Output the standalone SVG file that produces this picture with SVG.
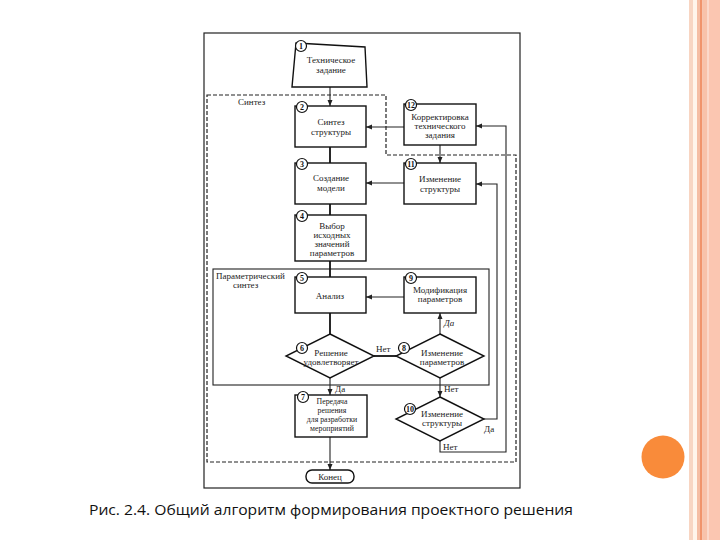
<svg xmlns="http://www.w3.org/2000/svg" width="720" height="540" viewBox="0 0 720 540">
<defs>
<style>
.bx{fill:#fff;stroke:#111;stroke-width:1.4}
.num{fill:#fff;stroke:#111;stroke-width:1.2}
.nt{font-family:"Liberation Serif",serif;font-size:8px;font-weight:bold;fill:#111;text-anchor:middle}
.t{font-family:"Liberation Serif",serif;font-size:9px;fill:#222;text-anchor:middle}
.t7{font-family:"Liberation Serif",serif;font-size:7.8px;fill:#222;text-anchor:middle}
.lb{font-family:"Liberation Serif",serif;font-size:9px;fill:#222}
.ln{fill:none;stroke:#222;stroke-width:1.1}
.thk{fill:none;stroke:#111;stroke-width:1.8}
.dash{fill:none;stroke:#222;stroke-width:1.2;stroke-dasharray:4 2}
</style>
<marker id="ar" markerWidth="6" markerHeight="6" refX="6" refY="3" orient="auto" markerUnits="userSpaceOnUse">
<path d="M0,0.5 L6,3 L0,5.5 Z" fill="#222"/>
</marker>
</defs>
<rect width="720" height="540" fill="#fff"/>
<!-- right decoration -->
<g id="decor">
<rect x="689" y="0" width="4" height="540" fill="#F8D5C2"/>
<rect x="693" y="0" width="4" height="540" fill="#FFF4EA"/>
<rect x="697" y="0" width="3" height="540" fill="#F5BDA3"/>
<rect x="700" y="0" width="2.5" height="540" fill="#F0946C"/>
<rect x="702.5" y="0" width="4.5" height="540" fill="#F8C2AA"/>
<rect x="707" y="0" width="1.5" height="540" fill="#FBD9CA"/>
<rect x="708.5" y="0" width="11.5" height="540" fill="#FBC6B1"/>
<circle cx="663" cy="457" r="21.5" fill="#F98B3A"/>
</g>
<!-- frame and regions -->
<rect x="204" y="33" width="316" height="455" fill="none" stroke="#222" stroke-width="1.2"/>
<path class="dash" d="M207,95 H386 V155 H516 V462 H207 Z"/>
<text class="lb" x="238" y="105">Синтез</text>
<rect x="213" y="269" width="276" height="116" fill="none" stroke="#222" stroke-width="1.1"/>
<text class="lb" x="216" y="279">Параметрический</text>
<text class="lb" x="233" y="288">синтез</text>
<!-- connectors -->
<g id="connectors">
<line class="ln" x1="330" y1="87" x2="330" y2="106" marker-end="url(#ar)"/>
<line class="thk" x1="330" y1="147" x2="330" y2="163"/>
<line class="thk" x1="330" y1="204" x2="330" y2="215"/>
<line class="thk" x1="330" y1="261" x2="330" y2="277"/>
<line class="thk" x1="330" y1="313" x2="330" y2="334"/>
<line class="ln" x1="330" y1="378" x2="330" y2="395" marker-end="url(#ar)"/>
<line class="ln" x1="330" y1="437" x2="330" y2="470" marker-end="url(#ar)"/>
<line class="ln" x1="404" y1="127" x2="366" y2="127" marker-end="url(#ar)"/>
<line class="ln" x1="440" y1="145" x2="440" y2="163" marker-end="url(#ar)"/>
<line class="ln" x1="404" y1="183" x2="366" y2="183" marker-end="url(#ar)"/>
<line class="ln" x1="404" y1="297" x2="366" y2="297" marker-end="url(#ar)"/>
<line class="thk" x1="374" y1="356" x2="396" y2="356"/>
<line class="ln" x1="440" y1="334" x2="440" y2="313" marker-end="url(#ar)"/>
<line class="ln" x1="440" y1="378" x2="440" y2="397" marker-end="url(#ar)"/>
<polyline class="ln" points="484,419 497,419 497,184 476,184" marker-end="url(#ar)"/>
<polyline class="ln" points="440,441 440,452 506,452 506,126 476,126" marker-end="url(#ar)"/>
<text class="lb" x="376" y="352">Нет</text>
<text class="lb" x="444" y="326" font-style="italic">Да</text>
<text class="lb" x="335" y="392">Да</text>
<text class="lb" x="444" y="392">Нет</text>
<text class="lb" x="484" y="432">Да</text>
<text class="lb" x="443" y="450">Нет</text>
</g>
<!-- nodes -->
<g id="n1">
<polygon class="bx" points="296,43 365,47 367,87 292,87"/>
<circle class="num" cx="301" cy="46" r="5.5"/><text class="nt" x="301" y="49">1</text>
<text class="t" x="331" y="63">Техническое</text>
<text class="t" x="331" y="73">задание</text>
</g>
<g id="n2">
<rect class="bx" x="295" y="106" width="71" height="41"/>
<circle class="num" cx="302" cy="107" r="5.5"/><text class="nt" x="302" y="110">2</text>
<text class="t" x="331" y="125">Синтез</text>
<text class="t" x="331" y="135">структуры</text>
</g>
<g id="n12">
<rect class="bx" x="404" y="104" width="72" height="41"/>
<circle class="num" cx="411" cy="105" r="5.5"/><text class="nt" x="411" y="108">12</text>
<text class="t" x="440" y="120">Корректировка</text>
<text class="t" x="440" y="129">технического</text>
<text class="t" x="440" y="138">задания</text>
</g>
<g id="n3">
<rect class="bx" x="295" y="163" width="71" height="41"/>
<circle class="num" cx="302" cy="164" r="5.5"/><text class="nt" x="302" y="167">3</text>
<text class="t" x="331" y="181">Создание</text>
<text class="t" x="331" y="191">модели</text>
</g>
<g id="n11">
<rect class="bx" x="404" y="163" width="72" height="41"/>
<circle class="num" cx="411" cy="164" r="5.5"/><text class="nt" x="411" y="167">11</text>
<text class="t" x="440" y="182">Изменение</text>
<text class="t" x="440" y="192">структуры</text>
</g>
<g id="n4">
<rect class="bx" x="295" y="215" width="71" height="46"/>
<circle class="num" cx="302" cy="216" r="5.5"/><text class="nt" x="302" y="219">4</text>
<text class="t" x="332" y="229">Выбор</text>
<text class="t" x="332" y="238">исходных</text>
<text class="t" x="332" y="247">значений</text>
<text class="t" x="332" y="256">параметров</text>
</g>
<g id="n5">
<rect class="bx" x="295" y="277" width="71" height="36"/>
<circle class="num" cx="302" cy="278" r="5.5"/><text class="nt" x="302" y="281">5</text>
<text class="t" x="330" y="299">Анализ</text>
</g>
<g id="n9">
<rect class="bx" x="404" y="277" width="72" height="36"/>
<circle class="num" cx="411" cy="278" r="5.5"/><text class="nt" x="411" y="281">9</text>
<text class="t" x="440" y="293">Модификация</text>
<text class="t" x="440" y="302">параметров</text>
</g>
<g id="n6">
<polygon class="bx" points="330,334 374,356 330,378 286,356"/>
<circle class="num" cx="302" cy="348" r="5.5"/><text class="nt" x="302" y="351">6</text>
<text class="t" x="331" y="356">Решение</text>
<text class="t" x="331" y="365">удовлетворяет</text>
</g>
<g id="n8">
<polygon class="bx" points="440,334 484,356 440,378 396,356"/>
<circle class="num" cx="404" cy="348" r="5.5"/><text class="nt" x="404" y="351">8</text>
<text class="t" x="442" y="356">Изменение</text>
<text class="t" x="442" y="365">параметров</text>
</g>
<g id="n7">
<rect class="bx" x="295" y="395" width="72" height="42" stroke-width="1.8"/>
<circle class="num" cx="303" cy="397" r="5.5"/><text class="nt" x="303" y="400">7</text>
<text class="t7" x="332" y="404">Передача</text>
<text class="t7" x="332" y="413">решения</text>
<text class="t7" x="332" y="422">для разработки</text>
<text class="t7" x="332" y="431">мероприятий</text>
</g>
<g id="n10">
<polygon class="bx" points="440,397 484,419 440,441 396,419"/>
<circle class="num" cx="410" cy="409" r="5.5"/><text class="nt" x="410" y="412" font-size="7">10</text>
<text class="t" x="442" y="417">Изменение</text>
<text class="t" x="442" y="426">структуры</text>
</g>
<g id="end">
<rect class="bx" x="306" y="470" width="48" height="13" rx="6" ry="6"/>
<text class="t" x="330" y="480">Конец</text>
</g>
<text x="89" y="515" font-family="'Open Sans','Noto Sans',sans-serif" font-size="15" fill="#111" textLength="484" lengthAdjust="spacingAndGlyphs">Рис. 2.4. Общий алгоритм формирования проектного решения</text>
</svg>
